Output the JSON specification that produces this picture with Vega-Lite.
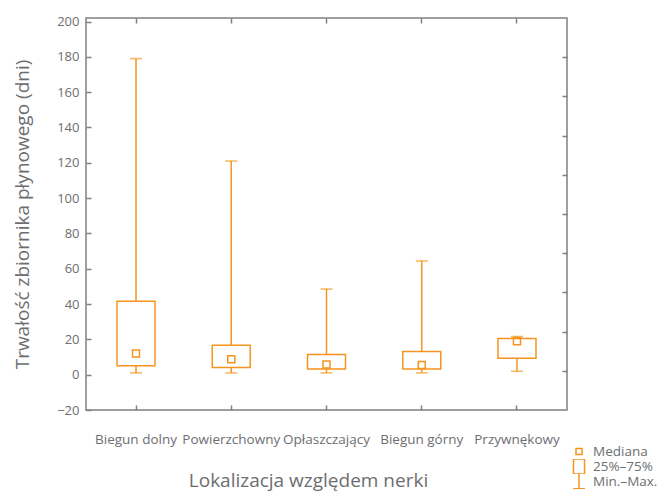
{
  "$schema": "https://vega.github.io/schema/vega-lite/v6.json",
  "autosize": {"type": "none"},
  "width": 481,
  "height": 392,
  "padding": {"left": 86, "top": 18, "right": 98, "bottom": 83},
  "background": "white",
  "config": {
    "view": {"stroke": "#808080", "strokeWidth": 1.5},
    "font": "Open Sans",
    "axis": {
      "domain": false,
      "grid": false,
      "tickColor": "#808080",
      "tickWidth": 1.5,
      "tickSize": -5,
      "labelColor": "#6d6e71",
      "labelFont": "Open Sans",
      "labelFontSize": 13,
      "titleColor": "#6d6e71",
      "titleFont": "Open Sans",
      "titleFontSize": 19,
      "titleFontWeight": "normal"
    }
  },
  "resolve": {"axis": {"x": "independent", "y": "independent"}},
  "datasets": {
    "boxes": [
      {"lok": "Biegun dolny", "min": 1, "q1": 5, "med": 12, "q3": 41.6, "max": 179},
      {"lok": "Powierzchowny", "min": 1, "q1": 4.1, "med": 8.7, "q3": 16.6, "max": 121},
      {"lok": "Opłaszczający", "min": 1, "q1": 3.2, "med": 5.7, "q3": 11.4, "max": 48.5},
      {"lok": "Biegun górny", "min": 1, "q1": 3.2, "med": 5.5, "q3": 13.2, "max": 64.4},
      {"lok": "Przywnękowy", "min": 1.9, "q1": 9.3, "med": 18.9, "q3": 20.5, "max": 21.6}
    ],
    "legend": [
      {"stat": "Mediana"},
      {"stat": "25%–75%"},
      {"stat": "Min.–Max."}
    ]
  },
  "layer": [
    {
      "data": {"name": "boxes"},
      "mark": {"type": "rule", "color": "#F7941D", "strokeWidth": 1.5},
      "encoding": {
        "x": {
          "field": "lok", "type": "nominal", "sort": null,
          "scale": {"type": "band", "paddingInner": 0, "paddingOuter": 0.025},
          "axis": {"orient": "bottom", "title": "Lokalizacja względem nerki", "labelAngle": 0, "labelPadding": 27, "labelFontSize": 13.5, "titleX": 222, "titleY": 70, "titleBaseline": "middle", "titleAlign": "center"}
        },
        "y": {
          "field": "min", "type": "quantitative",
          "scale": {"domain": [-20, 202], "nice": false, "zero": false},
          "axis": {"orient": "left", "title": "Trwałość zbiornika płynowego (dni)", "values": [-20, 0, 20, 40, 60, 80, 100, 120, 140, 160, 180, 200], "labelPadding": 12, "titleX": -64, "titleY": 196, "titleAngle": -90, "titleBaseline": "middle", "titleAlign": "center"}
        },
        "y2": {"field": "max"}
      }
    },
    {
      "data": {"name": "boxes"},
      "mark": {"type": "bar", "fill": "white", "stroke": "#F7941D", "strokeWidth": 1.5, "width": 38},
      "encoding": {
        "x": {"field": "lok", "type": "nominal", "sort": null,
          "axis": {"orient": "top", "labels": false, "title": null}},
        "y": {"field": "q1", "type": "quantitative",
          "axis": {"orient": "right", "labels": false, "title": null, "values": [2.2, 24.4, 46.6, 68.8, 91, 113.2, 135.4, 157.6, 179.8]}},
        "y2": {"field": "q3"}
      }
    },
    {
      "data": {"name": "boxes"},
      "mark": {"type": "tick", "color": "#F7941D", "thickness": 1.5, "size": 12},
      "encoding": {
        "x": {"field": "lok", "type": "nominal", "sort": null, "axis": null},
        "y": {"field": "min", "type": "quantitative", "axis": null}
      }
    },
    {
      "data": {"name": "boxes"},
      "mark": {"type": "tick", "color": "#F7941D", "thickness": 1.5, "size": 12},
      "encoding": {
        "x": {"field": "lok", "type": "nominal", "sort": null, "axis": null},
        "y": {"field": "max", "type": "quantitative", "axis": null}
      }
    },
    {
      "data": {"name": "boxes"},
      "mark": {"type": "point", "shape": "square", "filled": false, "color": "#F7941D", "strokeWidth": 1.5, "size": 49, "opacity": 1},
      "encoding": {
        "x": {"field": "lok", "type": "nominal", "sort": null, "axis": null},
        "y": {"field": "med", "type": "quantitative", "axis": null}
      }
    },
    {
      "data": {"name": "legend"},
      "mark": {"type": "point", "filled": false, "opacity": 0, "color": "#F7941D", "strokeWidth": 1.5},
      "encoding": {
        "shape": {
          "field": "stat", "type": "nominal", "sort": null,
          "scale": {
            "domain": ["Mediana", "25%–75%", "Min.–Max."],
            "range": ["M-0.375,-0.375H0.375V0.375H-0.375Z", "M-0.69,-0.94H0.69V0.94H-0.69Z", "M0,-0.94V0.92M-0.75,0.92H0.75"]
          },
          "legend": {
            "title": null,
            "orient": "none",
            "legendX": 484,
            "legendY": 426,
            "padding": 0,
            "symbolSize": 256,
            "symbolOpacity": 1,
            "symbolStrokeColor": "#F7941D",
            "symbolFillColor": "transparent",
            "symbolStrokeWidth": 1.5,
            "labelColor": "#6d6e71",
            "labelFontSize": 13.5,
            "labelFont": "Open Sans",
            "labelOffset": 5,
            "rowPadding": 0,
            "clipHeight": 15
          }
        }
      }
    }
  ]
}
